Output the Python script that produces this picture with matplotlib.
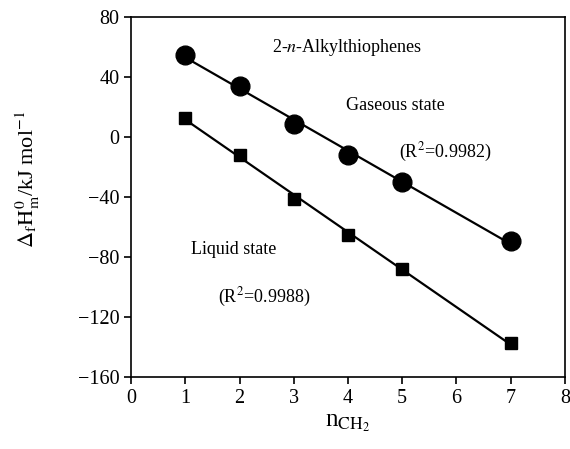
import numpy as np
import matplotlib
matplotlib.use('Agg')
import matplotlib.pyplot as plt

plt.rcParams['font.family'] = 'Liberation Serif'
plt.rcParams['mathtext.fontset'] = 'stix'

n_ch2 = [1, 2, 3, 4, 5, 7]
gas = [55, 34, 9, -12, -30, -69]
liquid = [13, -12, -41, -65, -88, -137]

fig = plt.figure(figsize=(5.7, 4.49), dpi=100)
ax = fig.add_axes([0.23, 0.16, 0.761, 0.802])

x = np.array(n_ch2)
for vals, marker, ms in [(gas, 'o', 13.5), (liquid, 's', 9)]:
    slope, icpt = np.polyfit(x, vals, 1)
    ax.plot([x[0], x[-1]], [slope * x[0] + icpt, slope * x[-1] + icpt], color='black', lw=1.6)
    ax.plot(x, vals, marker, color='black', ms=ms, ls='none')

fs = 13
ax.text(3.98, 60, '2-$n$-Alkylthiophenes', ha='center', va='center', fontsize=fs)
ax.text(4.87, 21, 'Gaseous state', ha='center', va='center', fontsize=fs)
ax.text(5.79, -10, '(R$^2$=0.9982)', ha='center', va='center', fontsize=fs)
ax.text(1.9, -75, 'Liquid state', ha='center', va='center', fontsize=fs)
ax.text(2.45, -107, '(R$^2$=0.9988)', ha='center', va='center', fontsize=fs)

ax.set_xlim(0, 8)
ax.set_ylim(-160, 80)
ax.set_xticks(range(0, 9))
ax.set_yticks(range(-160, 81, 40))
ax.tick_params(direction='out', length=5, width=1.2, labelsize=14.5, top=False, right=False)
for s in ax.spines.values():
    s.set_linewidth(1.2)

ax.set_xlabel(r'n$_{\mathrm{CH_2}}$', fontsize=18, labelpad=3)
ax.set_ylabel(r'$\Delta_{\mathrm{f}}\mathrm{H}_{\mathrm{m}}^{0}$/kJ mol$^{-1}$', fontsize=16)
ax.yaxis.set_label_coords(-0.205, 0.55)

fig.savefig('out.png', dpi=100)
